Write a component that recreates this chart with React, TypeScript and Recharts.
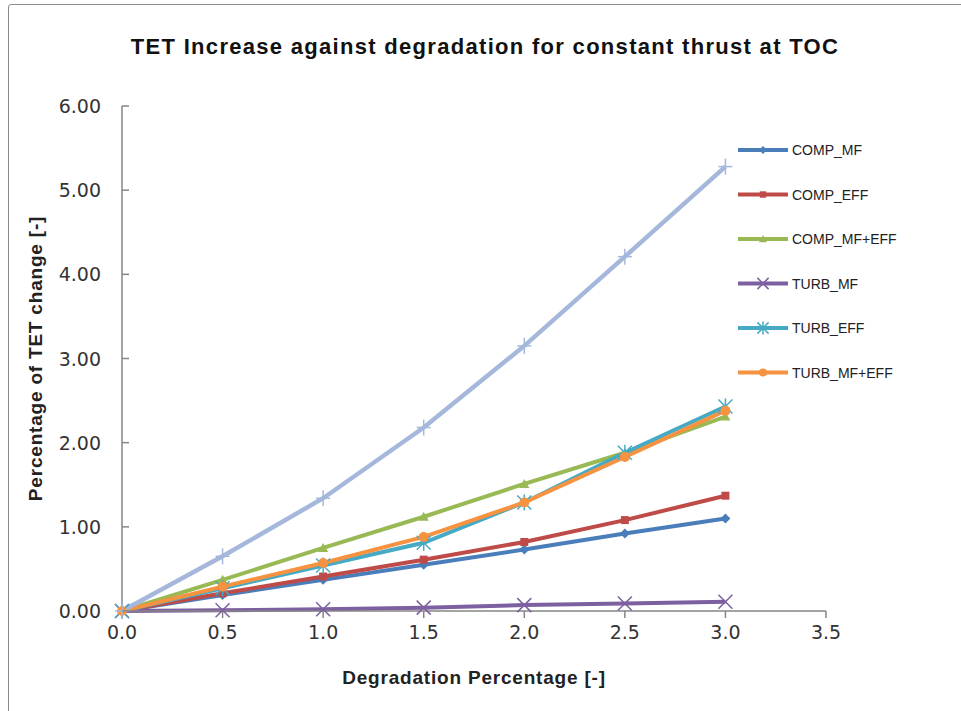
import { LineChart, Line, XAxis, YAxis, Legend, Label } from "recharts";

// degradation percentage (x) and TET change per case (y)
const degradation = [0, 0.5, 1.0, 1.5, 2.0, 2.5, 3.0];
const compMf = [0, 0.19, 0.37, 0.55, 0.73, 0.92, 1.1];
const compEff = [0, 0.21, 0.41, 0.61, 0.82, 1.08, 1.37];
const compMfEff = [0, 0.37, 0.75, 1.12, 1.51, 1.88, 2.31];
const turbMf = [0, 0.01, 0.02, 0.04, 0.07, 0.09, 0.11];
const turbEff = [0, 0.27, 0.54, 0.81, 1.29, 1.88, 2.43];
const turbMfEff = [0, 0.29, 0.57, 0.88, 1.29, 1.83, 2.38];
const allCombined = [0, 0.65, 1.34, 2.18, 3.15, 4.21, 5.28];

const xTicks = [0, 0.5, 1.0, 1.5, 2.0, 2.5, 3.0, 3.5];
const yTicks = [0, 1, 2, 3, 4, 5, 6];

type Shape = "diamond" | "square" | "triangle" | "x" | "star" | "circle" | "plus";

const series = [
  { key: "compMf", name: "COMP_MF", color: "#4A7EBB", shape: "diamond" as Shape, values: compMf, legend: true },
  { key: "compEff", name: "COMP_EFF", color: "#BE4B48", shape: "square" as Shape, values: compEff, legend: true },
  { key: "compMfEff", name: "COMP_MF+EFF", color: "#98B954", shape: "triangle" as Shape, values: compMfEff, legend: true },
  { key: "turbMf", name: "TURB_MF", color: "#7D60A0", shape: "x" as Shape, values: turbMf, legend: true },
  { key: "turbEff", name: "TURB_EFF", color: "#46AAC5", shape: "star" as Shape, values: turbEff, legend: true },
  { key: "turbMfEff", name: "TURB_MF+EFF", color: "#F69240", shape: "circle" as Shape, values: turbMfEff, legend: true },
  { key: "allCombined", name: "ALL", color: "#A5B8DC", shape: "plus" as Shape, values: allCombined, legend: false },
];

const data = degradation.map((x, i) => {
  const row: Record<string, number> = { x };
  series.forEach((s) => {
    row[s.key] = s.values[i];
  });
  return row;
});

const FONT = "'Liberation Sans', Arial, sans-serif";
const TICK_FONT = "'DejaVu Sans', sans-serif";

function marker(shape: Shape, cx: number, cy: number, color: string, k?: string | number, scale = 1) {
  const s = scale;
  switch (shape) {
    case "diamond":
      return (
        <polygon key={k} points={`${cx},${cy - 5 * s} ${cx + 5 * s},${cy} ${cx},${cy + 5 * s} ${cx - 5 * s},${cy}`} fill={color} />
      );
    case "square":
      return <rect key={k} x={cx - 4 * s} y={cy - 4 * s} width={8 * s} height={8 * s} fill={color} />;
    case "triangle":
      return (
        <polygon key={k} points={`${cx},${cy - 5 * s} ${cx + 5 * s},${cy + 4 * s} ${cx - 5 * s},${cy + 4 * s}`} fill={color} />
      );
    case "x":
      return (
        <g key={k} stroke={color} strokeWidth={1.5}>
          <line x1={cx - 7 * s} y1={cy - 7 * s} x2={cx + 7 * s} y2={cy + 7 * s} />
          <line x1={cx - 7 * s} y1={cy + 7 * s} x2={cx + 7 * s} y2={cy - 7 * s} />
        </g>
      );
    case "star":
      return (
        <g key={k} stroke={color} strokeWidth={1.5}>
          <line x1={cx - 7 * s} y1={cy - 7 * s} x2={cx + 7 * s} y2={cy + 7 * s} />
          <line x1={cx - 7 * s} y1={cy + 7 * s} x2={cx + 7 * s} y2={cy - 7 * s} />
          <line x1={cx} y1={cy - 8 * s} x2={cx} y2={cy + 8 * s} />
        </g>
      );
    case "circle":
      return <circle key={k} cx={cx} cy={cy} r={5 * s} fill={color} />;
    case "plus":
    default:
      return (
        <g key={k} stroke={color} strokeWidth={1.5}>
          <line x1={cx - 7 * s} y1={cy} x2={cx + 7 * s} y2={cy} />
          <line x1={cx} y1={cy - 8 * s} x2={cx} y2={cy + 8 * s} />
        </g>
      );
  }
}

function LegendBox() {
  const items = series.filter((s) => s.legend);
  return (
    <svg width={200} height={250} style={{ overflow: "visible" }}>
      {items.map((s, i) => {
        const y = 10 + i * 44.5;
        return (
          <g key={s.key}>
            <line x1={0} y1={y} x2={50} y2={y} stroke={s.color} strokeWidth={4} />
            {marker(s.shape, 25, y, s.color, undefined, 0.8)}
            <text x={54} y={y + 5} fontSize={14} fontFamily={FONT} fill="#222">
              {s.name}
            </text>
          </g>
        );
      })}
    </svg>
  );
}

function YTick(props: any) {
  const { x, y, payload } = props;
  return (
    <g>
      <line x1={x + 21} y1={y} x2={x + 28} y2={y} stroke="#868686" strokeWidth={1.5} />
      <text x={x} y={y + 7} textAnchor="end" fontSize={19} fontFamily={TICK_FONT} fill="#333">
        {Number(payload.value).toFixed(2)}
      </text>
    </g>
  );
}

export default function App() {
  return (
    <div style={{ position: "absolute", left: 0, top: 0, width: 961, height: 711, overflow: "hidden", background: "#fff" }}>
      <div
        style={{
          position: "absolute",
          left: 8,
          top: 4,
          width: 1000,
          height: 800,
          border: "1px solid #8c8c8c",
          borderRadius: 3,
        }}
      />
      <div
        style={{
          position: "absolute",
          left: 0,
          top: 34,
          width: 970,
          textAlign: "center",
          fontFamily: FONT,
          fontWeight: "bold",
          fontSize: 22,
          letterSpacing: 1.3,
          color: "#111",
          whiteSpace: "nowrap",
        }}
      >
        TET Increase against degradation for constant thrust at TOC
      </div>
      <div style={{ position: "absolute", left: 0, top: 0 }}>
        <LineChart width={961} height={711} data={data} margin={{ top: 106, right: 135, bottom: 70, left: 0 }}>
          <XAxis
            dataKey="x"
            type="number"
            domain={[0, 3.5]}
            ticks={xTicks}
            tickFormatter={(v: number) => v.toFixed(1)}
            height={30}
            stroke="#868686"
            strokeWidth={1.5}
            tickSize={7}
            tickMargin={8}
            tick={{ fontSize: 19, fontFamily: TICK_FONT, fill: "#333" }}
          >
            <Label
              content={(p: any) => {
                const vb = p.viewBox;
                return (
                  <text
                    x={vb.x + vb.width / 2}
                    y={684}
                    textAnchor="middle"
                    fontSize={19}
                    letterSpacing={0.8}
                    fontWeight="bold"
                    fontFamily={FONT}
                    fill="#222"
                  >
                    Degradation Percentage [-]
                  </text>
                );
              }}
            />
          </XAxis>
          <YAxis
            type="number"
            domain={[0, 6]}
            ticks={yTicks}
            width={122}
            stroke="#868686"
            strokeWidth={1.5}
            tickSize={0}
            tickMargin={21}
            tick={<YTick />}
          >
            <Label
              content={(p: any) => {
                const vb = p.viewBox;
                const cy = vb.y + vb.height / 2;
                return (
                  <text
                    x={42}
                    y={cy}
                    transform={`rotate(-90, 42, ${cy})`}
                    textAnchor="middle"
                    fontSize={19}
                    letterSpacing={0.8}
                    fontWeight="bold"
                    fontFamily={FONT}
                    fill="#222"
                  >
                    Percentage of TET change [-]
                  </text>
                );
              }}
            />
          </YAxis>
          <Legend
            layout="vertical"
            align="center"
            verticalAlign="middle"
            content={() => <LegendBox />}
            wrapperStyle={{ position: "absolute", left: 738, top: 140, width: 200 }}
          />
          {series.map((s) => (
            <Line
              key={s.key}
              dataKey={s.key}
              name={s.name}
              type="linear"
              stroke={s.color}
              strokeWidth={s.legend ? 4 : 4.5}
              legendType={s.legend ? "line" : "none"}
              isAnimationActive={false}
              dot={(p: any) => marker(s.shape, p.cx, p.cy, s.color, p.key ?? p.index)}
              activeDot={false}
            />
          ))}
        </LineChart>
      </div>
    </div>
  );
}
